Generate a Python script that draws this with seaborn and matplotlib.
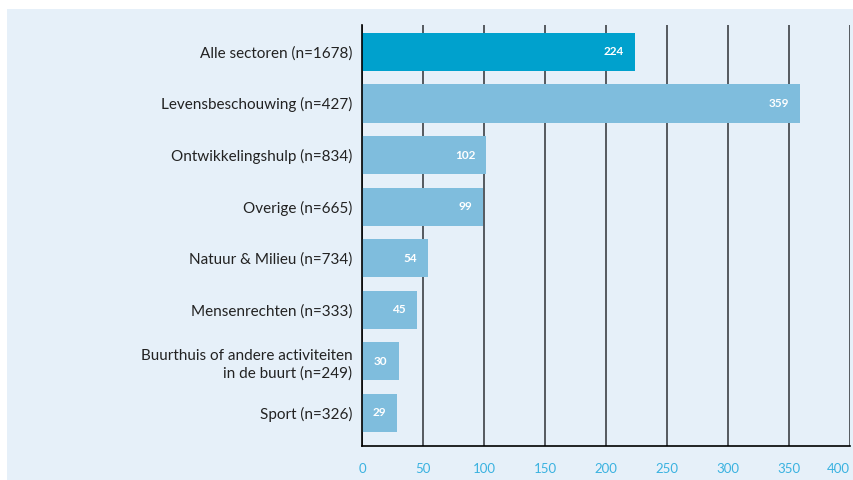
import matplotlib
matplotlib.use("Agg")
import matplotlib.pyplot as plt
import seaborn as sns
import pandas as pd
from matplotlib.patches import Rectangle

# data
categories = [
    "Alle sectoren (n=1678)",
    "Levensbeschouwing (n=427)",
    "Ontwikkelingshulp (n=834)",
    "Overige (n=665)",
    "Natuur & Milieu (n=734)",
    "Mensenrechten (n=333)",
    "Buurthuis of andere activiteiten\nin de buurt (n=249)",
    "Sport (n=326)",
]
values = [224, 359, 102, 99, 54, 45, 30, 29]
x_ticks = [0, 50, 100, 150, 200, 250, 300, 350, 400]

df = pd.DataFrame({"sector": categories, "waarde": values})

bar_colors = ["#00A1CD"] + ["#7FBDDD"] * (len(categories) - 1)
panel_color = "#E6F0F9"
tick_color = "#3AB2E0"

sns.set_theme(style="white")
plt.rcParams["font.family"] = ["Lato", "DejaVu Sans"]

fig = plt.figure(figsize=(8.54, 4.8), dpi=100, facecolor="white")
# lichtblauw achtergrondvlak
fig.patches.append(Rectangle((7 / 854, 0), 1 - 7 / 854, 1 - 9 / 480,
                             transform=fig.transFigure, facecolor=panel_color,
                             edgecolor="none", zorder=-10))

ax = fig.add_axes([362 / 854, 34 / 480, (850 - 362) / 854, (446 - 25) / 480])
ax.set_zorder(5)
ax.patch.set_alpha(0)

sns.barplot(data=df, x="waarde", y="sector", hue="sector", palette=bar_colors,
            legend=False, width=0.74, saturation=1, linewidth=0, ax=ax, zorder=3)

ax.set_xlim(0, 400)
ax.set_ylim(7.64, -0.52)
ax.set_xticks(x_ticks)
ax.set_axisbelow(True)
ax.xaxis.grid(True, color="#3c4046", linewidth=1.2)
ax.yaxis.grid(False)
for s in ["top", "right"]:
    ax.spines[s].set_visible(False)
for s in ["left", "bottom"]:
    ax.spines[s].set_color("black")
    ax.spines[s].set_linewidth(1.2)
    ax.spines[s].set_zorder(4)

ax.set_xlabel("")
ax.set_ylabel("")
ax.tick_params(axis="x", colors=tick_color, labelsize=9.5, length=0, pad=12)
ax.tick_params(axis="y", colors="#222222", labelsize=11, length=0, pad=7)
ax.get_xticklabels()[-1].set_horizontalalignment("right")
for lbl in ax.get_yticklabels():
    lbl.set_linespacing(1.35)

# waarden in de balken
for i, v in enumerate(values):
    ax.text(v - 9, i, str(v), ha="right", va="center", color="white",
            fontsize=8.5, fontweight="bold", zorder=4)

fig.savefig("out.png", dpi=100, facecolor="white")
